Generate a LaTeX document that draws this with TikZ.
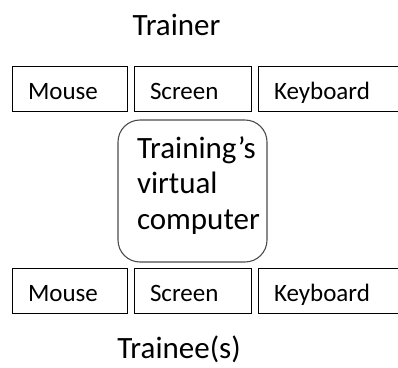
\documentclass[tikz,border=0pt]{standalone}
\usepackage{fontspec}
\setmainfont{Carlito}
\begin{document}
\begin{tikzpicture}[x=1pt,y=-1pt,
  dev/.style={draw=black, line width=1pt, minimum height=45pt, inner xsep=16pt,
    align=left, text height=21pt, text depth=0pt, inner ysep=0pt,
    font=\fontsize{25}{30}\selectfont},
  title/.style={anchor=base, font=\fontsize{31}{36}\selectfont, inner sep=0pt},
  vm/.style={draw=black!70, line width=1.1pt, rounded corners=22pt,
    minimum width=149pt, minimum height=142pt, text width=111pt, inner xsep=19pt,
    align=left, text depth=87pt, font=\fontsize{31}{35.5}\selectfont}]
\useasboundingbox (0,0) rectangle (398,367);
\node[title] (trainer) at (176.5,35) {Trainer};
\node[dev, text width=83pt] (m1) at (69.5,88.5) {Mouse};
\node[dev, text width=85pt] (s1) at (192.5,88.5) {Screen};
\node[dev, text width=110pt] (k1) at (329,88.5) {Keyboard};
\node[vm] (vm) at (192.5,191) {Training’s\\virtual\\computer};
\node[dev, text width=83pt] (m2) at (69.5,290.5) {Mouse};
\node[dev, text width=85pt] (s2) at (192.5,290.5) {Screen};
\node[dev, text width=110pt] (k2) at (329,290.5) {Keyboard};
\node[title] (trainee) at (179,358) {Trainee(s)};
\end{tikzpicture}
\end{document}
